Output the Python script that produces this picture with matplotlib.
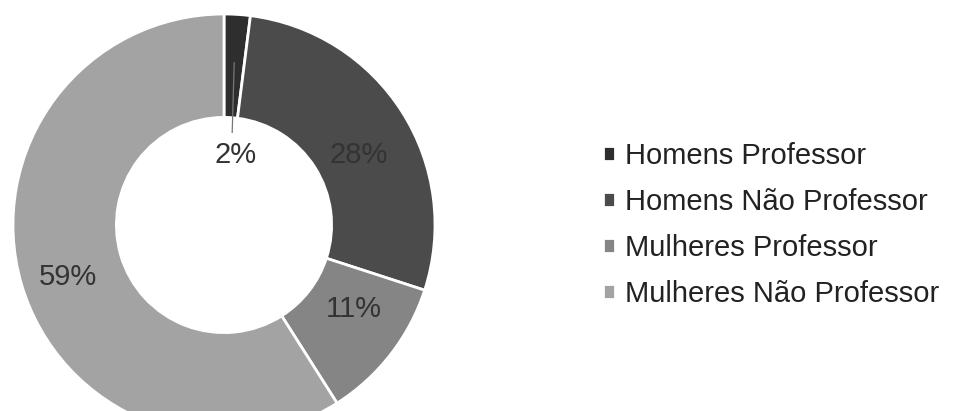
import numpy as np
import matplotlib.pyplot as plt

plt.rcParams['font.family'] = ['Liberation Sans', 'DejaVu Sans']

categories = ['Homens Professor', 'Homens Não Professor',
              'Mulheres Professor', 'Mulheres Não Professor']
values = [2, 28, 11, 59]
colors = ['#2e2e2e', '#4b4b4b', '#858585', '#a3a3a3']

W, H = 956, 411
fig = plt.figure(figsize=(W / 100, H / 100), dpi=100)
fig.patch.set_facecolor('white')
ax = fig.add_axes([0, 0, 1, 1])

cx, cy, R = 224, H - 225, 211
wedges, texts, autotexts = ax.pie(
    values, colors=colors, startangle=90, counterclock=False,
    center=(cx, cy), radius=R,
    wedgeprops=dict(width=0.49 * R, edgecolor='white', linewidth=2),
    autopct='%1.0f%%', pctdistance=0.74,
    textprops=dict(fontsize=21, color='#333333'))

# nudge labels a little (pixels), as in the original layout
nudges = [(0, 0), (3, -14), (6, 12), (-6, -8)]
for t, (dx, dy) in zip(autotexts[1:], nudges[1:]):
    x, y = t.get_position()
    t.set_position((x + dx, y + dy))

# small slice: label sits in the hole, with a leader line
w0 = wedges[0]
mid = np.deg2rad((w0.theta1 + w0.theta2) / 2)
autotexts[0].set_position((cx + 12, cy + 0.33 * R))
x_top = cx + 0.77 * R * np.cos(mid)
ax.plot([x_top, x_top - 2],
        [cy + 0.77 * R * np.sin(mid), cy + 0.44 * R * np.sin(mid)],
        color='#777777', lw=0.9)

ax.set_xlim(0, W)
ax.set_ylim(0, H)
ax.set_aspect('equal')
ax.axis('off')

leg = ax.legend(wedges, categories, loc='center left',
                bbox_to_anchor=(588 / W, 1 - 225 / H), bbox_transform=fig.transFigure,
                frameon=False, fontsize=21, borderpad=0, handlelength=0.42,
                handleheight=0.42, handletextpad=0.36, labelspacing=0.62)
for t in leg.get_texts():
    t.set_color('#222222')

fig.savefig('out.png', dpi=100, facecolor='white')
